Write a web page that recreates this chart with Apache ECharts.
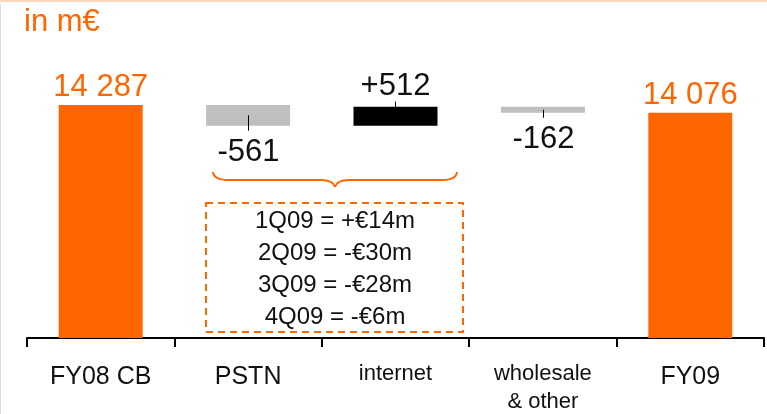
<!DOCTYPE html>
<html>
<head>
<meta charset="utf-8">
<style>
  html, body { margin: 0; padding: 0; background: #fff; }
  #chart { width: 767px; height: 414px; }
</style>
<script src="https://cdn.jsdelivr.net/npm/echarts@6/dist/echarts.min.js"></script>
</head>
<body>
<div id="chart"></div>
<script>
// Revenue bridge FY08 CB -> FY09 (in m€)
const categories = ['FY08 CB', 'PSTN', 'internet', 'wholesale\n& other', 'FY09'];
const totals = [14287, null, null, null, 14076];
const changes = [null, -561, 512, -162, null];
const quarterNotes = ['1Q09 = +€14m', '2Q09 = -€30m', '3Q09 = -€28m', '4Q09 = -€6m'];

const ORANGE = '#ff6600';
const FONT = '"Liberation Sans", Arial, Helvetica, sans-serif';

// running level for the floating bars
const baseData = [];
const deltaData = [];
const connectorData = [];
let level = totals[0];
categories.forEach((c, i) => {
  const ch = changes[i];
  if (ch == null) {
    baseData.push(null);
    deltaData.push(null);
    return;
  }
  const low = Math.min(level, level + ch);
  const high = Math.max(level, level + ch);
  baseData.push(low);
  deltaData.push({
    value: high - low,
    itemStyle: { color: ch < 0 ? '#bfbfbf' : '#000000' }
  });
  connectorData.push([i, low, high, ch]);
  level += ch;
});

function fmtTotal(v) {
  return String(v).replace(/\B(?=(\d{3})+(?!\d))/g, ' ');
}
function fmtChange(v) {
  return (v > 0 ? '+' : '') + v;
}

// curly brace under PSTN / internet, built from curves and straight runs
function braceParts(x1, x2, yEnd, yRun, yTip) {
  const xm = (x1 + x2) / 2;
  const st = { fill: 'none', stroke: ORANGE, lineWidth: 2 };
  return [
    { type: 'bezierCurve', shape: { x1: x1, y1: yEnd, x2: x1 + 15, y2: yRun, cpx1: x1 + 1, cpy1: yRun }, style: st },
    { type: 'line', shape: { x1: x1 + 15, y1: yRun, x2: xm - 14, y2: yRun }, style: st },
    { type: 'bezierCurve', shape: { x1: xm - 14, y1: yRun, x2: xm, y2: yTip, cpx1: xm - 2, cpy1: yRun }, style: st },
    { type: 'bezierCurve', shape: { x1: xm, y1: yTip, x2: xm + 14, y2: yRun, cpx1: xm + 2, cpy1: yRun }, style: st },
    { type: 'line', shape: { x1: xm + 14, y1: yRun, x2: x2 - 15, y2: yRun }, style: st },
    { type: 'bezierCurve', shape: { x1: x2 - 15, y1: yRun, x2: x2, y2: yEnd, cpx1: x2 - 1, cpy1: yRun }, style: st }
  ];
}

const chart = echarts.init(document.getElementById('chart'), null, { renderer: 'canvas' });

chart.setOption({
  animation: false,
  backgroundColor: '#ffffff',
  grid: { left: 27, right: 3, top: 97, bottom: 76 },
  xAxis: {
    type: 'category',
    data: categories,
    boundaryGap: true,
    axisLine: { show: true, lineStyle: { color: '#000', width: 2 } },
    axisTick: { show: true, inside: false, alignWithLabel: false, interval: 0, length: 9, lineStyle: { color: '#000', width: 2 } },
    axisLabel: {
      margin: 22,
      interval: 0,
      formatter: function (v) {
        if (v === 'internet' || v.indexOf('\n') >= 0) {
          return v.split('\n').map(s => '{s|' + s + '}').join('\n');
        }
        return '{b|' + v + '}';
      },
      rich: {
        b: { fontSize: 25, lineHeight: 34, color: '#111', fontFamily: FONT },
        s: { fontSize: 22, lineHeight: 28, color: '#111', fontFamily: FONT }
      }
    }
  },
  yAxis: {
    type: 'value',
    min: 8000,
    max: 14500,
    show: false,
    splitLine: { show: false }
  },
  series: [
    {
      name: 'total',
      type: 'bar',
      data: totals,
      barWidth: 84,
      barGap: '-100%',
      itemStyle: { color: ORANGE },
      label: {
        show: true,
        position: 'top',
        distance: 2,
        color: ORANGE,
        fontSize: 31,
        fontFamily: FONT,
        formatter: p => fmtTotal(p.value)
      },
      z: 3
    },
    {
      name: 'base',
      type: 'bar',
      stack: 'bridge',
      data: baseData,
      barWidth: 84,
      itemStyle: { color: 'rgba(0,0,0,0)' },
      silent: true
    },
    {
      name: 'change',
      type: 'bar',
      stack: 'bridge',
      data: deltaData,
      barWidth: 84
    },
    {
      // leader ticks and value labels for the floating bars
      name: 'changeLabels',
      type: 'custom',
      data: connectorData,
      z: 5,
      renderItem: function (params, api) {
        const top = api.coord([api.value(0), api.value(2)]);
        const bot = api.coord([api.value(0), api.value(1)]);
        const ch = api.value(3);
        const cx = Math.round(top[0]) + 0.5;
        const mid = (top[1] + bot[1]) / 2;
        let line, text;
        if (ch < 0) {
          line = { x1: cx, y1: mid, x2: cx, y2: bot[1] + 5 };
          text = { x: cx, y: bot[1] + 11, verticalAlign: 'top' };
        } else {
          line = { x1: cx, y1: mid, x2: cx, y2: top[1] - 5 };
          text = { x: cx, y: top[1] - 5, verticalAlign: 'bottom' };
        }
        return {
          type: 'group',
          children: [
            { type: 'line', shape: line, style: { stroke: '#000', lineWidth: 1 } },
            {
              type: 'text',
              style: {
                text: fmtChange(ch),
                x: text.x,
                y: text.y,
                align: 'center',
                verticalAlign: text.verticalAlign,
                fill: '#111',
                fontSize: 31,
                fontFamily: FONT
              }
            }
          ]
        };
      }
    }
  ],
  graphic: [
    { type: 'rect', shape: { x: 0, y: 0, width: 767, height: 2 }, style: { fill: '#fcd5bb' }, silent: true },
    { type: 'line', shape: { x1: 0.5, y1: 4, x2: 0.5, y2: 414 }, style: { stroke: '#dcdcdc', lineWidth: 1 }, silent: true },
    {
      type: 'text',
      style: { text: 'in m€', x: 24, y: 7, verticalAlign: 'top', fill: ORANGE, fontSize: 31, fontFamily: FONT }
    },
    {
      type: 'group',
      children: braceParts(213, 457, 172, 180, 187)
    },
    {
      type: 'rect',
      shape: { x: 206, y: 203, width: 257, height: 129 },
      style: { fill: 'none', stroke: ORANGE, lineWidth: 2, lineDash: [7, 5] }
    },
    {
      type: 'text',
      style: {
        text: quarterNotes.join('\n'),
        x: 335,
        y: 205,
        align: 'center',
        verticalAlign: 'top',
        lineHeight: 32,
        fill: '#111',
        fontSize: 24,
        fontFamily: FONT
      }
    }
  ]
});
</script>
</body>
</html>
